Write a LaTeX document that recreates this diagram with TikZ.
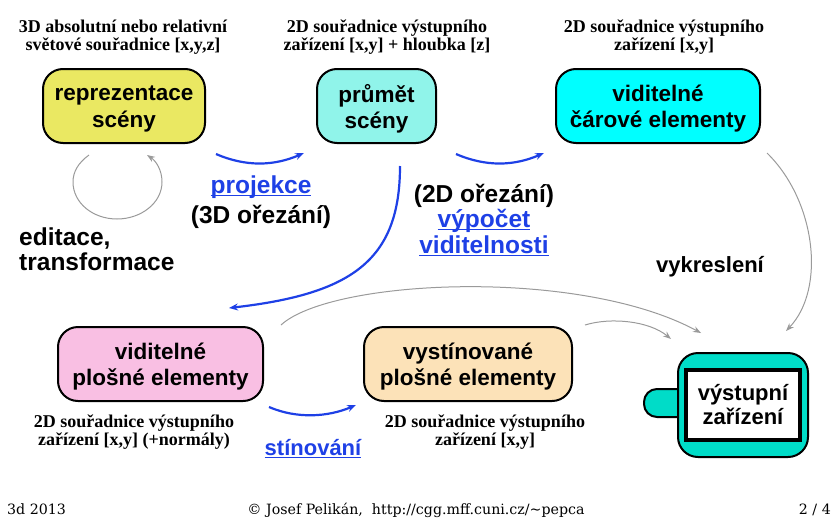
\documentclass[tikz,border=0pt]{standalone}
\usepackage{fontspec}
\setmainfont{Liberation Serif}
\setsansfont{Liberation Sans}
\newfontfamily\footfont{DejaVu Serif}
\usetikzlibrary{arrows.meta}
\definecolor{cyel}{HTML}{EAE862}
\definecolor{clcyan}{HTML}{90F4EA}
\definecolor{ccyan}{HTML}{00FFFF}
\definecolor{cpink}{HTML}{F9BFE3}
\definecolor{cpeach}{HTML}{FCE2B8}
\definecolor{cdev}{HTML}{00DCC8}
\definecolor{cblue}{HTML}{1E40E6}
\definecolor{cgrayarr}{HTML}{9A9A9A}
\newsavebox\ulbox
\newcommand\ulblue[1]{\sbox\ulbox{#1}\rlap{\color{cblue}\rule[-3pt]{\wd\ulbox}{1.5pt}}\usebox\ulbox}
\tikzset{
  box/.style={draw=black, line width=2pt, rounded corners=20pt, inner sep=0pt},
  boxtxt/.style={align=center, inner sep=0pt, yshift=-2.8pt,
    font=\sffamily\bfseries\fontsize{22.5}{26.5}\selectfont},
  coordlbl/.style={anchor=base, inner sep=0pt, font=\rmfamily\bfseries\fontsize{18}{18}\selectfont},
  biglbl/.style={anchor=base, inner sep=0pt, font=\sffamily\bfseries\fontsize{24.5}{26}\selectfont},
  midlbl/.style={anchor=base, inner sep=0pt, font=\sffamily\bfseries\fontsize{22}{25}\selectfont},
  footlbl/.style={anchor=base, inner sep=0pt, font=\footfont\fontsize{14.2}{17}\selectfont},
  bluearrow/.style={draw=cblue, line width=2.2pt, -{Stealth[length=9pt,width=7pt]}},
  grayarrow/.style={draw=cgrayarr, line width=1pt, -{Stealth[length=8pt,width=6pt]}}
}
\begin{document}
\begin{tikzpicture}[x=1pt,y=-1pt]
\useasboundingbox (0,0) rectangle (840,525);
% boxes
\node[box, fill=cyel, minimum width=162, minimum height=74] (rep) at (124,106) {};
\node[boxtxt] (rept) at (rep.center) {reprezentace\\scény};
\node[box, fill=clcyan, minimum width=119, minimum height=74] (prum) at (376.5,106) {};
\node[boxtxt] (prumt) at (prum.center) {průmět\\scény};
\node[box, fill=ccyan, minimum width=204, minimum height=74] (car) at (658,106) {};
\node[boxtxt] (cart) at (car.center) {viditelné\\čárové elementy};
\node[box, fill=cpink, minimum width=205, minimum height=74] (plos) at (160.5,364) {};
\node[boxtxt] (plost) at (plos.center) {viditelné\\plošné elementy};
\node[box, fill=cpeach, minimum width=208, minimum height=74] (vyst) at (468,364) {};
\node[boxtxt] (vystt) at (vyst.center) {vystínované\\plošné elementy};
% output device
\node[draw=black, line width=2pt, fill=cdev, rounded corners=13pt, minimum width=50, minimum height=28] (tab) at (669,403) {};
\node[draw=black, line width=2pt, fill=cdev, rounded corners=20pt, minimum width=130, minimum height=104] (dev) at (743,405) {};
\node[draw=black, line width=4.5pt, fill=white, minimum width=114, minimum height=70, align=center, inner sep=0pt,
  font=\sffamily\bfseries\fontsize{22}{24}\selectfont] (devin) at (743,405) {výstupní\\zařízení};
% coordinate labels
\node[coordlbl] (l1a) at (123,32) {3D absolutní nebo relativní};
\node[coordlbl] (l1b) at (123,50) {světové souřadnice [x,y,z]};
\node[coordlbl] (l2a) at (387,32) {2D souřadnice výstupního};
\node[coordlbl] (l2b) at (387,50) {zařízení [x,y] + hloubka [z]};
\node[coordlbl] (l3a) at (664,32) {2D souřadnice výstupního};
\node[coordlbl] (l3b) at (664,50) {zařízení [x,y]};
\node[coordlbl] (l4a) at (134,427) {2D souřadnice výstupního};
\node[coordlbl] (l4b) at (134,445) {zařízení [x,y] (+normály)};
\node[coordlbl] (l5a) at (485,427) {2D souřadnice výstupního};
\node[coordlbl] (l5b) at (485,445) {zařízení [x,y]};
% operation labels
\node[biglbl, text=cblue] (proj) at (261,193) {\ulblue{projekce}};
\node[biglbl] (or3) at (261,223) {(3D ořezání)};
\node[biglbl] (or2) at (484,202) {(2D ořezání)};
\node[biglbl, text=cblue] (vyp) at (484,227) {\ulblue{výpočet}};
\node[biglbl, text=cblue] (vid) at (484,253) {\ulblue{viditelnosti}};
\node[biglbl, anchor=base west] (edi) at (19,245) {editace,};
\node[biglbl, anchor=base west] (tra) at (19,270) {transformace};
\node[midlbl] (vyk) at (710,272) {vykreslení};
\node[midlbl, text=cblue] (sti) at (313,455) {\ulblue{stínování}};
% footer
\node[footlbl, anchor=base west] (f1) at (7,514) {3d\ 2013};
\node[footlbl] (f2) at (416,514) {© Josef Pelikán,\ \ http://cgg.mff.cuni.cz/\textasciitilde pepca};
\node[footlbl, anchor=base east] (f3) at (831,514) {2 / 4};
% blue arrows
\draw[bluearrow] ([shift={(10,10)}]rep.south east) .. controls +(30,13) and +(-30,13) .. ([shift={(-12,9)}]prum.south west);
\draw[bluearrow] ([shift={(19,10)}]prum.south east) .. controls +(30,13) and +(-30,13) .. ([shift={(-11,9)}]car.south west);
\draw[bluearrow] ([shift={(23.5,22)}]prum.south) .. controls +(0,95) and +(122,-14) .. ([shift={(-35,-18)}]plos.north east);
\draw[bluearrow] ([shift={(5,5)}]plos.south east) .. controls +(28,12) and +(-28,12) .. ([shift={(-7,3)}]vyst.south west);
% gray arrows
\draw[grayarrow] ([shift={(-35,11)}]rep.south) .. controls +(-11,8) and +(0,-10) .. (73,182)
  .. controls +(0,21) and +(-24,0) .. (117,219)
  .. controls +(24,0) and +(0,21) .. (162,182)
  .. controls +(0,-12) and +(9,6) .. ([shift={(23,11)}]rep.south);
\draw[grayarrow] ([shift={(6,9)}]car.south east) .. controls +(49,48) and +(40,-42) .. ([shift={(-23,-21)}]dev.north east);
\draw[grayarrow] ([shift={(17,-1)}]plos.north east) .. controls +(50,-46) and +(-122,-66) .. ([shift={(24,-19)}]dev.north west);
\draw[grayarrow] ([shift={(12,-1)}]vyst.north east) .. controls +(26,-8) and +(-22,-18) .. ([shift={(-6,-13)}]dev.north west);
\end{tikzpicture}
\end{document}
